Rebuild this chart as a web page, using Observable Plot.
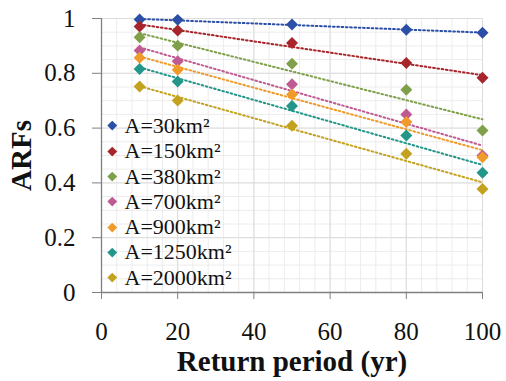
<!DOCTYPE html>
<html>
<head>
<meta charset="utf-8">
<script src="https://cdn.jsdelivr.net/npm/d3@7"></script>
<script src="https://cdn.jsdelivr.net/npm/@observablehq/plot@0.6"></script>
<style>
  html, body { margin: 0; padding: 0; background: #fff; }
  #wrap { position: relative; width: 506px; height: 381px; font-family: 'Liberation Serif', serif; }
  #legend { position: absolute; left: 108px; top: 113px; font-family: 'Liberation Serif', serif; font-size: 22px; line-height: 25.3px; color: #111; }
  #legend .row { display: flex; align-items: center; height: 25.3px; white-space: nowrap; }
  #legend .sw { width: 6.5px; height: 6.5px; transform: rotate(45deg); margin: 0 9px 0 1px; flex: none; }
  #wrap svg text { font-family: 'Liberation Serif', serif; }
</style>
</head>
<body>
<div id="wrap"></div>
<script>
// Return periods (yr)
const periods = [10, 20, 50, 80, 100];
// Series names
const areas = ["A=30km²", "A=150km²", "A=380km²", "A=700km²", "A=900km²", "A=1250km²", "A=2000km²"];
// ARF values per series
const arf30   = [0.996, 0.995, 0.978, 0.959, 0.948];
const arf150  = [0.971, 0.956, 0.911, 0.838, 0.784];
const arf380  = [0.932, 0.901, 0.835, 0.740, 0.591];
const arf700  = [0.883, 0.844, 0.760, 0.650, 0.500];
const arf900  = [0.857, 0.813, 0.723, 0.622, 0.494];
const arf1250 = [0.816, 0.770, 0.681, 0.573, 0.437];
const arf2000 = [0.752, 0.701, 0.609, 0.506, 0.378];
const colors = ["#2b4fa6", "#a8262b", "#7fa04a", "#c05a92", "#f09a2a", "#23968a", "#c3a21f"];
// Axis ticks
const xTicks = [0, 20, 40, 60, 80, 100];
const yTicks = [0, 0.2, 0.4, 0.6, 0.8, 1];
const xMinor = d3.range(0, 101, 4);
const yMinor = d3.range(0, 1.0001, 0.05);

const seriesValues = [arf30, arf150, arf380, arf700, arf900, arf1250, arf2000];
const data = areas.flatMap((a, i) => periods.map((p, j) => ({series: a, period: p, arf: seriesValues[i][j]})));

const serif = "'Liberation Serif', serif";
const axisColor = "#808080";
const chart = Plot.plot({
  width: 506,
  height: 381,
  marginLeft: 101,
  marginRight: 24,
  marginTop: 18,
  marginBottom: 89,
  style: {fontFamily: serif, color: "#111", background: "#fff"},
  x: {domain: [0, 100]},
  y: {domain: [0, 1]},
  color: {domain: areas, range: colors},
  marks: [
    Plot.gridX(xMinor, {stroke: "#ececec", strokeOpacity: 1}),
    Plot.gridY(yMinor, {stroke: "#ececec", strokeOpacity: 1}),
    Plot.gridX(xTicks, {stroke: "#dcdcdc", strokeOpacity: 1}),
    Plot.gridY(yTicks, {stroke: "#dcdcdc", strokeOpacity: 1}),
    Plot.ruleX([0], {stroke: axisColor, strokeWidth: 1.3}),
    Plot.ruleY([0], {stroke: axisColor, strokeWidth: 1.3}),
    Plot.axisX(xTicks, {tickSize: 7, tickPadding: 23, fontSize: 25, fontFamily: serif, stroke: axisColor, label: null, color: "#111"}),
    Plot.axisY(yTicks, {tickSize: 9, tickPadding: 17, fontSize: 25, fontFamily: serif, stroke: axisColor, label: null, tickFormat: d3.format("~g"), color: "#111"}),
    Plot.axisX([], {label: "Return period (yr)", labelAnchor: "center", labelArrow: false, labelOffset: 78, fontSize: 29, fontFamily: serif, fontWeight: "bold", tickSize: 0}),
    Plot.axisY([], {label: "ARFs", labelAnchor: "center", labelArrow: false, labelOffset: 91, fontSize: 29, fontFamily: serif, fontWeight: "bold", tickSize: 0}),
    Plot.linearRegressionY(data, {x: "period", y: "arf", stroke: "series", ci: 0, strokeWidth: 2, strokeDasharray: "1.7,2.6"}),
    Plot.dot(data, {x: "period", y: "arf", fill: "series", symbol: "diamond2", r: 5.4, stroke: "none"})
  ]
});
const wrap = document.getElementById("wrap");
wrap.appendChild(chart);
const legend = document.createElement("div");
legend.id = "legend";
areas.forEach((a, i) => {
  const row = document.createElement("div");
  row.className = "row";
  const sw = document.createElement("span");
  sw.className = "sw";
  sw.style.background = colors[i];
  const t = document.createElement("span");
  t.textContent = a;
  row.appendChild(sw); row.appendChild(t);
  legend.appendChild(row);
});
wrap.appendChild(legend);
</script>
</body>
</html>
